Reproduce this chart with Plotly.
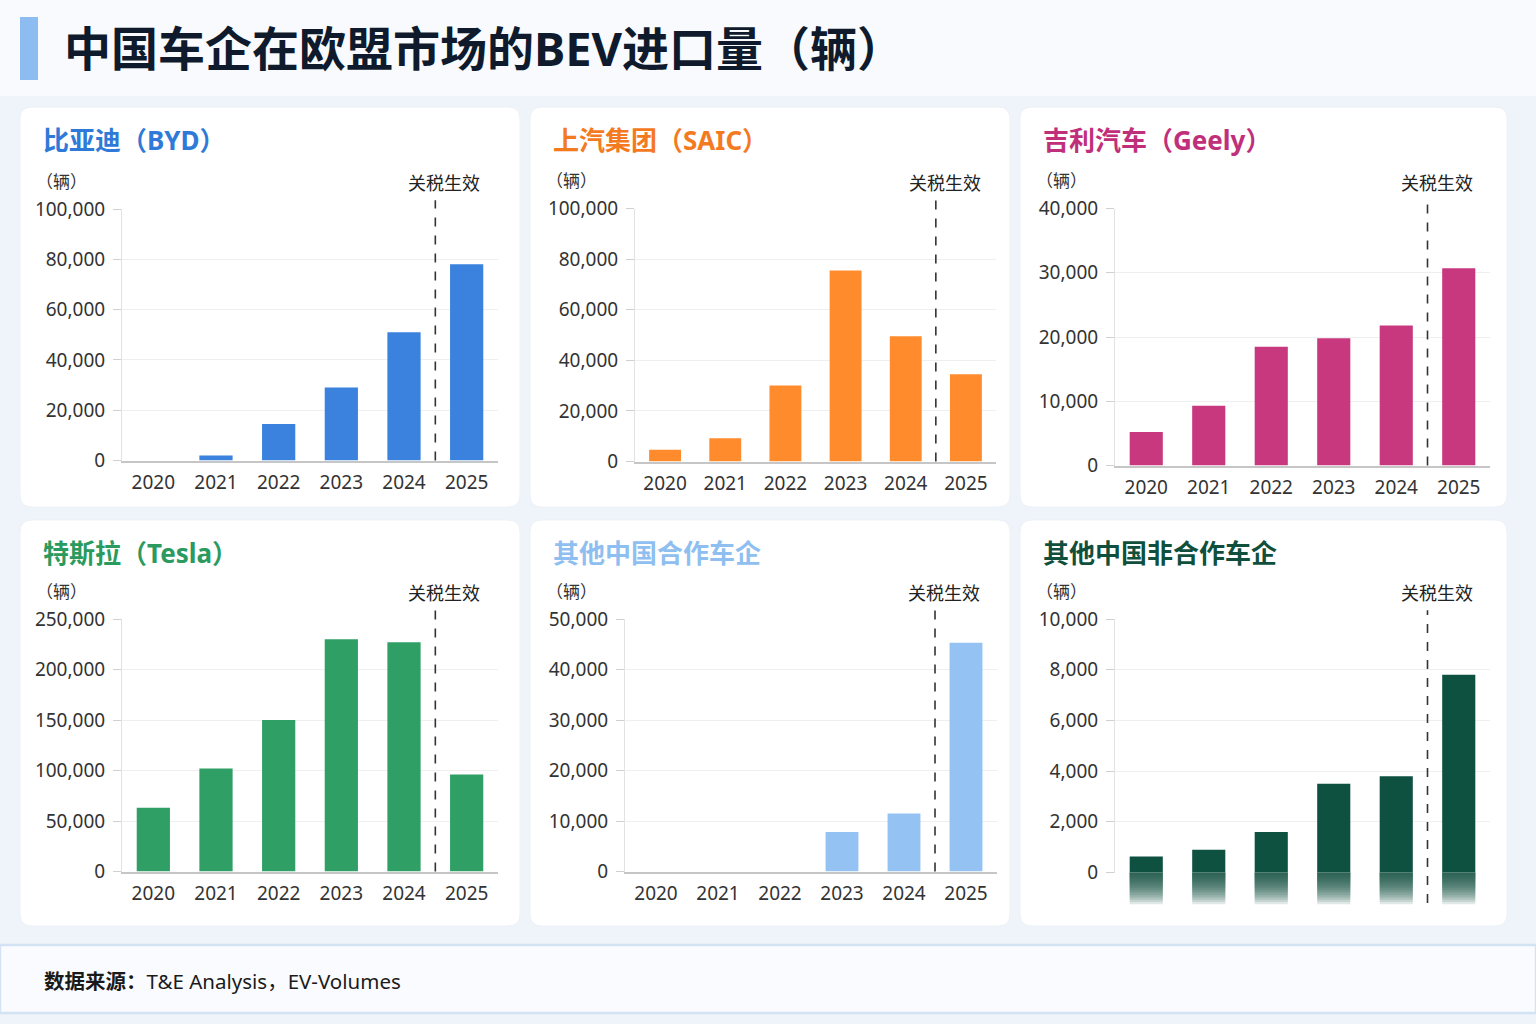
import plotly.graph_objects as go

# ---------------- data ----------------
years = ["2020", "2021", "2022", "2023", "2024", "2025"]
byd = [0, 2000, 14500, 29000, 51000, 78000]
saic = [4600, 9200, 30000, 75500, 49500, 34500]
geely = [5200, 9300, 18500, 19800, 21800, 30700]
tesla = [63000, 102000, 150000, 230000, 227000, 96000]
other_partner = [0, 0, 0, 7800, 11500, 45300]
other_nonpartner = [630, 900, 1600, 3500, 3800, 7800]

series = [byd, saic, geely, tesla, other_partner, other_nonpartner]
panel_titles = ["比亚迪（BYD）", "上汽集团（SAIC）", "吉利汽车（Geely）",
                "特斯拉（Tesla）", "其他中国合作车企", "其他中国非合作车企"]
main_title = "中国车企在欧盟市场的BEV进口量（辆）"
unit_label = "（辆）"
tariff_label = "关税生效"
source_label = "<b>数据来源：</b>T&E Analysis，EV-Volumes"
y_max = [100000, 100000, 40000, 250000, 50000, 10000]
y_step = [20000, 20000, 10000, 50000, 10000, 2000]

# ---------------- styling ----------------
title_colors = ["#2f7ad8", "#f47a1f", "#c0307a", "#2a9a5e", "#8fbff0", "#0f4f3c"]
bar_colors = ["#3a82de", "#ff8b2c", "#c8387e", "#2f9f66", "#94c3f3", "#0e5140"]
W, H = 1536, 1024
FONT = "Noto Sans, Noto Sans CJK SC, sans-serif"

def px(x):
    return x / W

def py(y):
    return 1 - y / H

# plot-area boxes in pixels: (left, right, top, bottom)
boxes = [
    (122, 498, 209, 460.5),
    (635, 996, 208.5, 461.5),
    (1115, 1490, 208.5, 465.5),
    (122, 498, 619, 871.5),
    (625, 997, 619, 871.5),
    (1115, 1490, 619, 872.5),
]
cards = [
    (20, 520, 107, 507), (530, 1010, 107, 507), (1020, 1507, 107, 507),
    (20, 520, 520, 926), (530, 1010, 520, 926), (1020, 1507, 520, 926),
]

fig = go.Figure()
shapes = []
annotations = []

# page background bands
shapes.append(dict(type="rect", xref="paper", yref="paper", x0=0, x1=1, y0=py(96), y1=1,
                   fillcolor="#f8fafd", line_width=0, layer="below"))
# title accent bar
shapes.append(dict(type="rect", xref="paper", yref="paper", x0=px(20), x1=px(38), y0=py(80), y1=py(17),
                   fillcolor="#8dbdf0", line_width=0, layer="below"))
# footer band
shapes.append(dict(type="rect", xref="paper", yref="paper", x0=0, x1=1, y0=py(1013), y1=py(945),
                   fillcolor="#f9fbfe", line=dict(color="#d3e3f4", width=2.5), layer="below"))

# cards
def rounded(x0, x1, y0, y1, r=12):
    rx, ry = r / W, r / H
    X0, X1, Y0, Y1 = px(x0), px(x1), py(y1), py(y0)
    return (f"M {X0+rx},{Y1} L {X1-rx},{Y1} Q {X1},{Y1} {X1},{Y1-ry} "
            f"L {X1},{Y0+ry} Q {X1},{Y0} {X1-rx},{Y0} L {X0+rx},{Y0} "
            f"Q {X0},{Y0} {X0},{Y0+ry} L {X0},{Y1-ry} Q {X0},{Y1} {X0+rx},{Y1} Z")

for (x0, x1, y0, y1) in cards:
    shapes.append(dict(type="path", xref="paper", yref="paper", path=rounded(x0, x1, y0, y1),
                       fillcolor="#ffffff", line=dict(color="#edf1f6", width=1), layer="below"))

layout_axes = {}
for i, (vals, box) in enumerate(zip(series, boxes)):
    n = i + 1
    xa = "x" if n == 1 else f"x{n}"
    ya = "y" if n == 1 else f"y{n}"
    fig.add_trace(go.Bar(x=years, y=vals, xaxis=xa, yaxis=ya, marker=dict(color=bar_colors[i], line_width=0),
                         width=0.53, showlegend=False,
                         hovertemplate="%{x}: %{y:,}<extra></extra>"))
    l, r, t, b = box
    xkey = "xaxis" if n == 1 else f"xaxis{n}"
    ykey = "yaxis" if n == 1 else f"yaxis{n}"
    last = (n == 6)
    layout_axes[xkey] = dict(domain=[px(l), px(r)], anchor=ya, type="category", range=[-0.5, 5.5],
                             showline=not last, linecolor="#c6c6c6", linewidth=1.5, showgrid=False,
                             ticks="", tickfont=dict(family=FONT, size=19, color="#333333"),
                             ticklabelstandoff=4, showticklabels=not last, fixedrange=True,
                             automargin=False)
    layout_axes[ykey] = dict(domain=[py(b), py(t)], anchor=xa, range=[0, y_max[i]], dtick=y_step[i],
                             tick0=0, tickformat=",d", showgrid=True, gridcolor="#efefef", gridwidth=1,
                             showline=True, linecolor="#e2e2e2", linewidth=1, zeroline=False,
                             ticks="outside", ticklen=8, tickcolor="#d0d0d0",
                             tickfont=dict(family=FONT, size=19, color="#333333"),
                             ticklabelstandoff=4, fixedrange=True, automargin=False)
    # tariff dashed line between 2024 and 2025
    shapes.append(dict(type="line", xref=xa, yref=f"{ya} domain", x0=4.5, x1=4.5,
                       y0=(-0.12 if last else 0), y1=1.035,
                       line=dict(color="#333333", width=1.6, dash="dash")))
    cx0, cx1, cy0, cy1 = cards[i]
    annotations.append(dict(xref="paper", yref="paper", x=px(cx0 + 21), y=py(cy0 + 33),
                            xanchor="left", yanchor="middle", showarrow=False,
                            text=f"<b>{panel_titles[i]}</b>",
                            font=dict(family=FONT, size=26, color=title_colors[i])))
    annotations.append(dict(xref="paper", yref="paper", x=px(cx0 + 14), y=py(t - 28),
                            xanchor="left", yanchor="middle", showarrow=False, text=unit_label,
                            font=dict(family=FONT, size=17, color="#333333")))
    annotations.append(dict(xref=xa, yref="paper", x=4.5, xshift=9, y=py(t - 26),
                            xanchor="center", yanchor="middle", showarrow=False, text=tariff_label,
                            font=dict(family=FONT, size=18, color="#222222")))

# fading reflection under the bars of the last panel (decorative, derived from category index)
fade_steps = 14
for k in range(len(years)):
    for s in range(fade_steps):
        shapes.append(dict(type="rect", xref="x6", yref="y6 domain",
                           x0=k - 0.265, x1=k + 0.265,
                           y0=-0.125 * (s + 1) / fade_steps, y1=0,
                           fillcolor=bar_colors[5], opacity=0.13,
                           line_width=0, layer="above"))

annotations.append(dict(xref="paper", yref="paper", x=px(62), y=py(48), xanchor="left", yanchor="middle",
                        showarrow=False, text=f"<b>{main_title}</b>",
                        font=dict(family=FONT, size=47, color="#0f1a2c")))
annotations.append(dict(xref="paper", yref="paper", x=px(42), y=py(981), xanchor="left", yanchor="middle",
                        showarrow=False, text=source_label,
                        font=dict(family=FONT, size=20.5, color="#1a1a1a")))

fig.update_layout(
    width=W, height=H, margin=dict(l=0, r=0, t=0, b=0, autoexpand=False),
    paper_bgcolor="#eef4fa", plot_bgcolor="rgba(0,0,0,0)",
    shapes=shapes, annotations=annotations, bargap=0.47,
    font=dict(family=FONT),
    **layout_axes,
)

fig.write_html("out.html", config={"displayModeBar": False})
